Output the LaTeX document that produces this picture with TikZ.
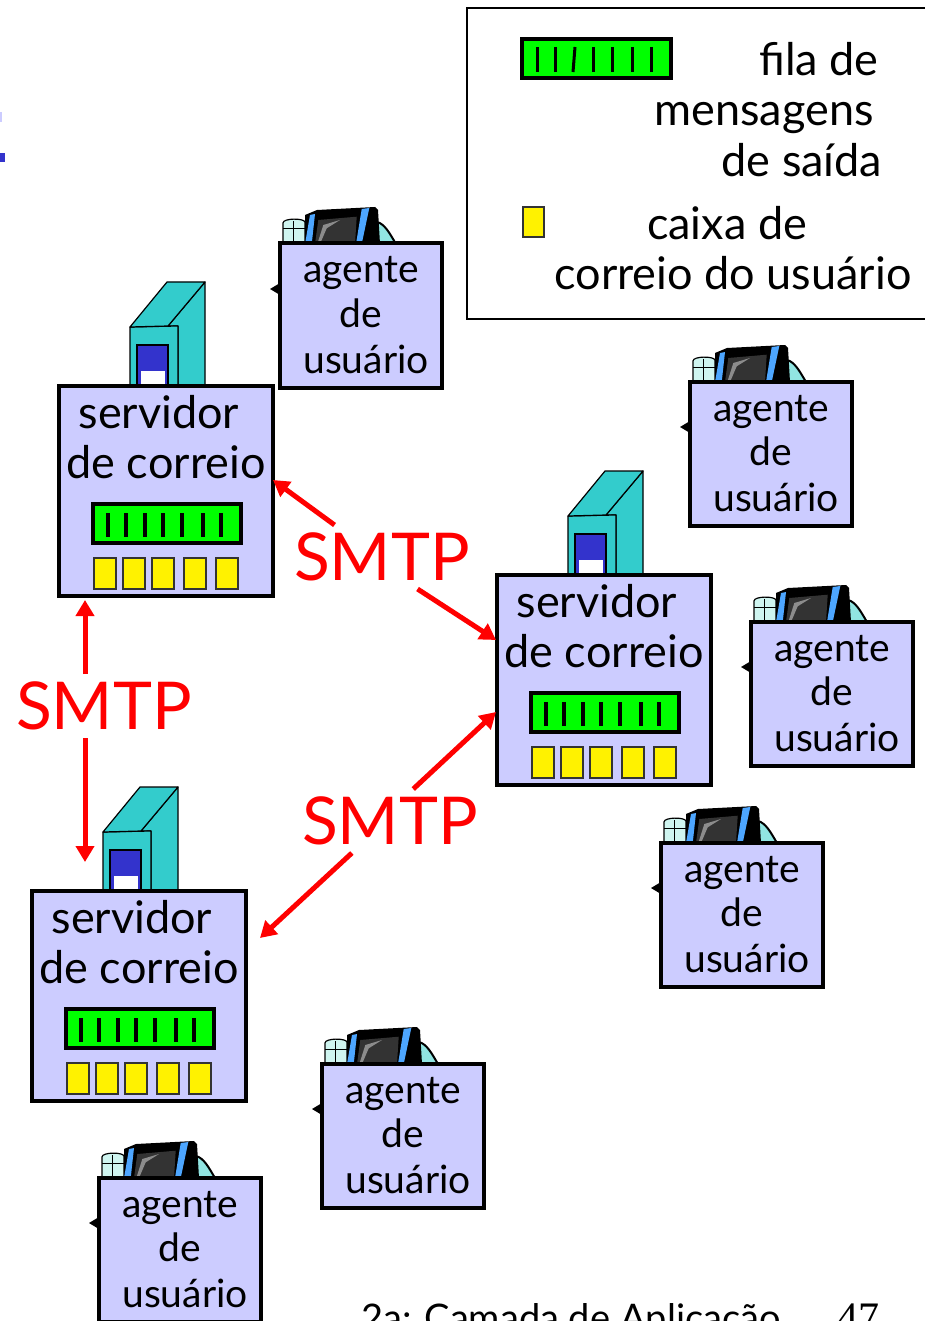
\documentclass[tikz,border=0pt]{standalone}
\usepackage{fontspec}
\setmainfont{Lato}
\newfontfamily\numfont{Liberation Serif}
\usetikzlibrary{arrows.meta}
\definecolor{lilac}{HTML}{CCCCFF}
\definecolor{towerteal}{HTML}{33CCCC}
\definecolor{towerblue}{HTML}{3333CC}
\definecolor{paleteal}{HTML}{CFF5F0}
\definecolor{stripe}{HTML}{4DA6FF}
\tikzset{
  panel/.style={draw=black,fill=lilac,line width=4pt,inner sep=0pt,outer sep=0pt,anchor=north west},
  qbox/.style={draw=black,fill=green,line width=4pt},
  qbar/.style={draw=black,line width=4pt},
  slot/.style={draw=black!80,fill=yellow,line width=1.6pt},
  thin edge/.style={draw=black,line width=1.2pt,line join=round},
  lab/.style={font=\fontsize{39}{44}\selectfont,anchor=base,inner sep=0pt,text=black},
  widelab/.style={font=\fontsize{45}{50}\selectfont,anchor=base,inner sep=0pt,text=black},
  biglab/.style={font=\fontsize{66}{70}\selectfont,text=red,inner sep=0pt,outer sep=0pt,minimum height=64pt},
  conn/.style={draw=red,line width=5pt,-{Triangle[length=16pt,width=18pt]}},
}
\newcommand{\queuebars}[2]{% x y of box corner
  \draw[qbox] (#1+2,#2+2) rectangle (#1+150,#2+41);
  \foreach \b in {17,35,54,72,91,112,130}
    \draw[qbar] (#1+\b,#2+11) -- (#1+\b,#2+35);
}
\newcommand{\agent}[2]{%
  \begin{scope}[shift={(#2)}]
    \fill[black] (-8,47) -- (2,41) -- (2,53) -- cycle;
    \draw[thin edge,fill=paleteal] (5,2) -- (5,-19) .. controls (5,-24) and (26,-24) .. (27,-20) -- (27,2) -- cycle;
    \draw[black,line width=1pt] (5,-13) -- (27,-13) (15,-21) -- (15,2);
    \draw[draw=black,line width=2pt,fill=paleteal!60!towerteal] (99,-20) .. controls (107,-18) and (112,-8) .. (118,2) -- (99,2) -- cycle;
    \fill[black] (27,2) -- (27,-27) -- (39,-32) -- (97,-35) -- (100,-32) -- (102,2) -- cycle;
    \fill[stripe] (32,-27) -- (37,-28) -- (33.7,2) -- (27,2) -- cycle;
    \fill[stripe] (83.7,-33) -- (91.3,-34) -- (83.7,2) -- (78,2) -- cycle;
    \fill[black!80] (40.3,-22) -- (78.7,-25.3) -- (77,2) -- (37,2) -- cycle;
    \fill[black!45] (45.3,-17) -- (62,-22) -- (48.7,-13.7) -- (42,2) -- (39.3,2) -- cycle;
    \node[panel,minimum width=162pt,minimum height=144pt] (#1) at (1.5,1.5) {};
    \node[lab] (#1a) at (83,41) {agente};
    \node[lab] (#1b) at (83,85) {de};
    \node[lab] (#1c) at (88,131) {usuário};
  \end{scope}
}
\newcommand{\server}[2]{%
  \begin{scope}[shift={(#2)}]
    \draw[thin edge,fill=towerteal] (110,-59) -- (147,-103) -- (147,2) -- (120,2) -- (120,-59) -- cycle;
    \draw[thin edge,fill=towerteal] (72,2) -- (72,-58) -- (120,-59) -- (120,2) -- cycle;
    \draw[thin edge,fill=towerteal] (72,-58) -- (109,-103) -- (147,-103) -- (110,-59) -- cycle;
    \draw[draw=black,fill=towerblue,line width=1.5pt] (79,-40) rectangle (110,2);
    \fill[white] (83,-14) rectangle (107,2);
    \node[panel,minimum width=214pt,minimum height=210pt] (#1) at (1,1) {};
    \node[widelab] (#1a) at (101,43) {servidor};
    \node[widelab] (#1b) at (108,93) {de correio};
    \queuebars{33}{117}
    \foreach \xa/\xb in {36/58,65/87,94/116,126/148,158/180}
      \draw[slot] (\xa,173) rectangle (\xb,204);
  \end{scope}
}
\begin{document}
\begin{tikzpicture}[x=1pt,y=-1pt]
\useasboundingbox (0,0) rectangle (924,1321);
\fill[white] (0,0) rectangle (924,1321);
% clipped remnants at the left edge
\fill[lilac] (0,112) rectangle (2,122);
\fill[towerblue] (0,153) rectangle (5,162);
% legend
\node[draw=black,line width=2pt,inner sep=0pt,outer sep=0pt,minimum width=460pt,minimum height=311pt,anchor=north west] (legend) at (467,8) {};
\begin{scope}
  \draw[qbox] (522,39) rectangle (671,78);
  \foreach \b/\c in {537/537,555/555,575/573,593/593,612/612,632/632,651/651}
    \draw[qbar,line width=3pt] (\b,47) -- (\c,72);
\end{scope}
\draw[slot] (523,207) rectangle (544,237);
\node[widelab] (l1) at (819,76) {fila de};
\node[widelab] (l2) at (764,126) {mensagens};
\node[widelab] (l3) at (802,177) {de saída};
\node[widelab] (l4) at (727,240) {caixa de};
\node[widelab] (l5) at (733,290) {correio do usuário};
% agents
\agent{ua1}{278,242}
\agent{ua2}{688,380}
\agent{ua3}{749,620}
\agent{ua4}{659,841}
\agent{ua5}{320,1062}
\agent{ua6}{97,1176}
% servers
\server{s1}{58,385}
\server{s3}{496,574}
\server{s2}{31,890}
% SMTP labels
\node[biglab] (p1) at (382,557) {SMTP};
\node[biglab] (p2) at (104,706) {SMTP};
\node[biglab] (p3) at (390,821) {SMTP};
% tips
\coordinate (t1) at (273,480);
\coordinate (t2) at (496,640);
\coordinate (t3) at (85,600);
\coordinate (t4) at (85,862);
\coordinate (t5) at (496,712);
\coordinate (t6) at (260,938);
\draw[conn] (p1.146) -- (t1);
\draw[conn] (p1.-42) -- (t2);
\draw[conn] (p2.north -| t3) -- (t3);
\draw[conn] (p2.south -| t4) -- (t4);
\draw[conn] (p3.54) -- (t5);
\draw[conn] (p3.220) -- (t6);
% footer
\node[font=\fontsize{38}{42}\selectfont,anchor=base,inner sep=0pt] (foot) at (571,1331) {2a: Camada de Aplicação};
\node[font=\fontsize{42}{44}\selectfont\numfont,anchor=base,inner sep=0pt] (page) at (858,1331) {47};
\end{tikzpicture}
\end{document}
